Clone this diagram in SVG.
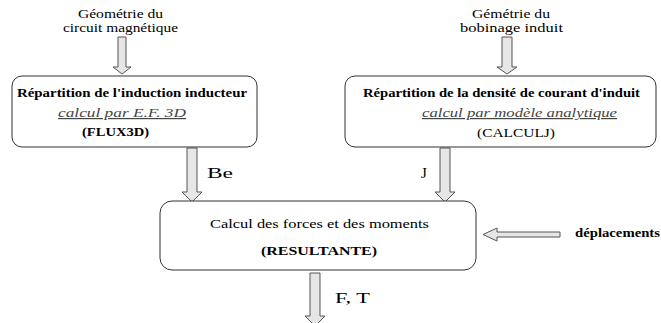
<svg xmlns="http://www.w3.org/2000/svg" width="661" height="323" viewBox="0 0 661 323">
<style>
text{font-family:"Liberation Serif","Times New Roman",serif;fill:#000}
.box{fill:#fff;stroke:#333;stroke-width:1}
.arr{fill:#e6e6e6;stroke:#555;stroke-width:1}
.b{font-weight:bold;font-size:12px}
.s{font-weight:bold;font-size:12px}
.r{font-size:13px}
.t{font-size:12.5px}
.it{font-style:italic;font-size:12px;fill:#444;text-decoration:underline}
.lbl{font-size:15px}
</style>
<rect width="661" height="323" fill="#fff"/>
<g id="connectors">
<path class="arr" d="M118,37 H126 V67 H131 L122,74 L113,67 H118 Z"/>
<path class="arr" d="M502,37 H512 V67 H517 L507,74 L497,67 H502 Z"/>
<path class="arr" d="M187,148 H197 V192 H202 L192,202 L182,192 H187 Z"/>
<path class="arr" d="M440,148 H450 V192 H455 L445,202 L435,192 H440 Z"/>
<path class="arr" d="M310,273 H320 V316 H325 L315,326 L305,316 H310 Z"/>
<path class="arr" d="M560,232 H497 V228 L483,234.5 L497,241 V237 H560 Z"/>
<text class="lbl" x="207" y="178" textLength="26" lengthAdjust="spacingAndGlyphs">Be</text>
<text class="lbl" x="421" y="178">J</text>
<text class="lbl" x="335" y="303" textLength="35" lengthAdjust="spacingAndGlyphs">F, T</text>
</g>
<g id="input-circuit">
<text class="t" x="78" y="18" textLength="85" lengthAdjust="spacingAndGlyphs">Géométrie du</text>
<text class="t" x="63" y="32" textLength="115" lengthAdjust="spacingAndGlyphs">circuit magnétique</text>
</g>
<g id="input-bobinage">
<text class="t" x="472" y="18" textLength="78" lengthAdjust="spacingAndGlyphs">Gémétrie du</text>
<text class="t" x="460" y="32" textLength="103" lengthAdjust="spacingAndGlyphs">bobinage induit</text>
</g>
<g id="box-inducteur">
<rect class="box" x="12" y="76" width="245" height="71" rx="10"/>
<text class="b" x="17" y="97" textLength="230" lengthAdjust="spacingAndGlyphs">Répartition de l'induction inducteur</text>
<text class="it" x="58" y="117" textLength="128" lengthAdjust="spacingAndGlyphs">calcul par E.F. 3D</text>
<text class="s" x="82" y="136" textLength="67" lengthAdjust="spacingAndGlyphs">(FLUX3D)</text>
</g>
<g id="box-induit">
<rect class="box" x="345" y="76" width="311" height="71" rx="10"/>
<text class="b" x="363" y="97" textLength="277" lengthAdjust="spacingAndGlyphs">Répartition de la densité de courant d'induit</text>
<text class="it" x="422" y="117" textLength="195" lengthAdjust="spacingAndGlyphs">calcul par modèle analytique</text>
<text class="r" x="477" y="137" textLength="78" lengthAdjust="spacingAndGlyphs">(CALCULJ)</text>
</g>
<g id="box-resultante">
<rect class="box" x="160" y="201" width="316" height="69" rx="12"/>
<text x="210" y="228" style="font-size:12px" textLength="219" lengthAdjust="spacingAndGlyphs">Calcul des forces et des moments</text>
<text class="s" x="261" y="255" textLength="116" lengthAdjust="spacingAndGlyphs">(RESULTANTE)</text>
</g>
<g id="input-deplacements">
<text class="b" x="575" y="237" textLength="85" lengthAdjust="spacingAndGlyphs">déplacements</text>
</g>
</svg>
